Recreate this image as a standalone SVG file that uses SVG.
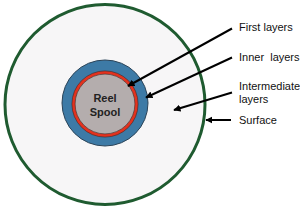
<svg xmlns="http://www.w3.org/2000/svg" width="300" height="209" viewBox="0 0 300 209">
<defs>
<marker id="ah" viewBox="0 0 10 10" refX="9" refY="5" markerWidth="3.6" markerHeight="3.6" orient="auto" markerUnits="strokeWidth">
<path d="M0,0 L10,5 L0,10 Z" fill="#000"/>
</marker>
<style>
.lbl{font-family:"Liberation Sans",Arial,sans-serif;font-size:11px;fill:#111}
.core{font-family:"Liberation Sans",Arial,sans-serif;font-size:11px;font-weight:bold;fill:#222}
.conn{stroke:#000;stroke-width:2;fill:none;marker-end:url(#ah)}
</style>
</defs>
<rect width="300" height="209" fill="#fff"/>
<g id="surface"><circle cx="105" cy="104.5" r="100" fill="#f7f6f7" stroke="#1f5b30" stroke-width="3"/></g>
<g id="inner-layers"><circle cx="105" cy="103" r="43" fill="#3d7aa6" stroke="#2a4358" stroke-width="1"/></g>
<g id="first-layers"><circle cx="105" cy="104" r="31.5" fill="#b4adad" stroke="#e3321e" stroke-width="3.2"/><circle cx="105" cy="104" r="29.9" fill="none" stroke="#3a2a2a" stroke-width="0.6"/><circle cx="105" cy="104" r="33.1" fill="none" stroke="#3a2a2a" stroke-width="0.6"/></g>
<g id="reel-spool"><text class="core" x="105" y="102" text-anchor="middle">Reel</text><text class="core" x="105" y="116" text-anchor="middle">Spool</text></g>
<g id="connectors">
<line class="conn" x1="232" y1="28.5" x2="128" y2="86"/>
<line class="conn" x1="232" y1="57.5" x2="146" y2="97.5"/>
<line class="conn" x1="232" y1="92.5" x2="174" y2="110"/>
<line class="conn" x1="231" y1="120" x2="206" y2="120"/>
</g>
<g id="labels">
<text class="lbl" x="239" y="31">First layers</text>
<text class="lbl" x="239" y="61" xml:space="preserve">Inner  layers</text>
<text class="lbl" x="239" y="90">Intermediate</text>
<text class="lbl" x="239" y="103">layers</text>
<text class="lbl" x="239" y="124">Surface</text>
</g>
</svg>
